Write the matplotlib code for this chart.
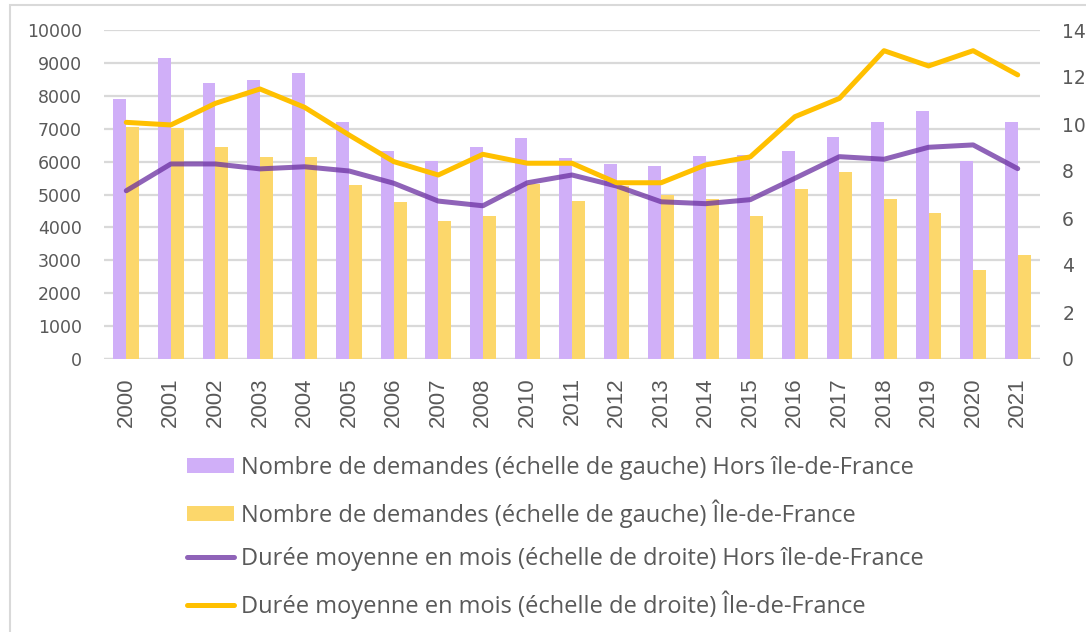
import matplotlib
matplotlib.use("Agg")
import matplotlib.pyplot as plt
import numpy as np
from matplotlib.patches import Rectangle, Patch
from matplotlib.lines import Line2D

years = ["2000", "2001", "2002", "2003", "2004", "2005", "2006", "2007", "2008", "2010",
         "2011", "2012", "2013", "2014", "2015", "2016", "2017", "2018", "2019", "2020", "2021"]
demandes_hors_idf = [7900, 9150, 8400, 8470, 8680, 7200, 6310, 6030, 6440, 6730,
                     6100, 5930, 5870, 6170, 6200, 6310, 6760, 7200, 7550, 6030, 7200]
demandes_idf = [7050, 7030, 6440, 6140, 6140, 5280, 4760, 4190, 4360, 5320,
                4800, 5250, 4990, 4860, 4360, 5180, 5690, 4860, 4430, 2710, 3150]
duree_hors_idf = [7.16, 8.30, 8.30, 8.09, 8.18, 8.00, 7.48, 6.72, 6.52, 7.50,
                  7.83, 7.36, 6.69, 6.61, 6.78, 7.69, 8.61, 8.50, 9.01, 9.11, 8.10]
duree_idf = [10.07, 9.96, 10.88, 11.49, 10.71, 9.53, 8.40, 7.83, 8.71, 8.33,
             8.33, 7.50, 7.50, 8.26, 8.60, 10.31, 11.09, 13.12, 12.47, 13.12, 12.09]

labels = [
    "Nombre de demandes (échelle de gauche) Hors île-de-France",
    "Nombre de demandes (échelle de gauche) Île-de-France",
    "Durée moyenne en mois (échelle de droite) Hors île-de-France",
    "Durée moyenne en mois (échelle de droite) Île-de-France",
]

c_bar_h = "#d0aff8"
c_bar_i = "#fcd76b"
c_line_h = "#6a2fa0"
c_line_i = "#ffc000"
txt = "#595959"
grid = "#d9d9d9"

W, H = 1086, 632
fig = plt.figure(figsize=(W / 100, H / 100), dpi=100)
# axes area: x 104..1040, y 30..359 (pixels from top)
ax = fig.add_axes([104 / W, 1 - 359 / H, (1040 - 104) / W, (359 - 30) / H])
ax2 = ax.twinx()

x = np.arange(len(years))
bw = 0.29
ax.bar(x - bw / 2, demandes_hors_idf, width=bw, color=c_bar_h, zorder=2)
ax.bar(x + bw / 2, demandes_idf, width=bw, color=c_bar_i, zorder=2)
ax.set_ylim(0, 10000)
ax.set_xlim(-0.5, len(years) - 0.5)
ax.set_yticks(np.arange(0, 10001, 1000))
ax.yaxis.grid(True, color=grid, linewidth=1.6, zorder=0)
ax.set_axisbelow(True)
ax.set_xticks(x)
ax.set_xticklabels(years, rotation=90, fontfamily="Liberation Sans", fontsize=16, color=txt)
for lab in ax.get_yticklabels():
    lab.set_fontfamily("DejaVu Sans")
    lab.set_fontsize(12.5)
    lab.set_color(txt)
ax.tick_params(axis="y", length=0, pad=16)
ax.tick_params(axis="x", length=0, pad=13)

ax2.plot(x, duree_hors_idf, color=c_line_h, lw=3.6, alpha=0.75, solid_capstyle="round",
         solid_joinstyle="round", zorder=3)
ax2.plot(x, duree_idf, color=c_line_i, lw=3.6, solid_capstyle="round",
         solid_joinstyle="round", zorder=4)
ax2.set_ylim(0, 14)
ax2.set_yticks(np.arange(0, 15, 2))
for lab in ax2.get_yticklabels():
    lab.set_fontfamily("DejaVu Sans")
    lab.set_fontsize(13.5)
    lab.set_color(txt)
ax2.tick_params(axis="y", length=0, pad=16)

for a in (ax, ax2):
    for s in ("top", "left", "right", "bottom"):
        a.spines[s].set_visible(False)
ax.axhline(0, color=grid, lw=1.6, zorder=1)

handles = [
    Patch(facecolor=c_bar_h, edgecolor="none"),
    Patch(facecolor=c_bar_i, edgecolor="none"),
    Line2D([0], [0], color=c_line_h, lw=3.6, alpha=0.75, solid_capstyle="round"),
    Line2D([0], [0], color=c_line_i, lw=3.6, solid_capstyle="round"),
]
leg = fig.legend(handles, labels, loc="upper left", bbox_to_anchor=(187 / W, 1 - 456 / H),
                 frameon=False, ncol=1, handlelength=2.0, handleheight=0.6, handletextpad=0.3,
                 labelspacing=0.82, borderaxespad=0, borderpad=0,
                 prop={"family": "Open Sans", "size": 17})
for t in leg.get_texts():
    t.set_color(txt)

fig.patches.append(Rectangle((10 / W, -0.1), 1.2, 1 - 5 / H + 0.1, transform=fig.transFigure,
                             fill=False, edgecolor="#d9d9d9", lw=1.5))

fig.savefig("out.png", dpi=100)
